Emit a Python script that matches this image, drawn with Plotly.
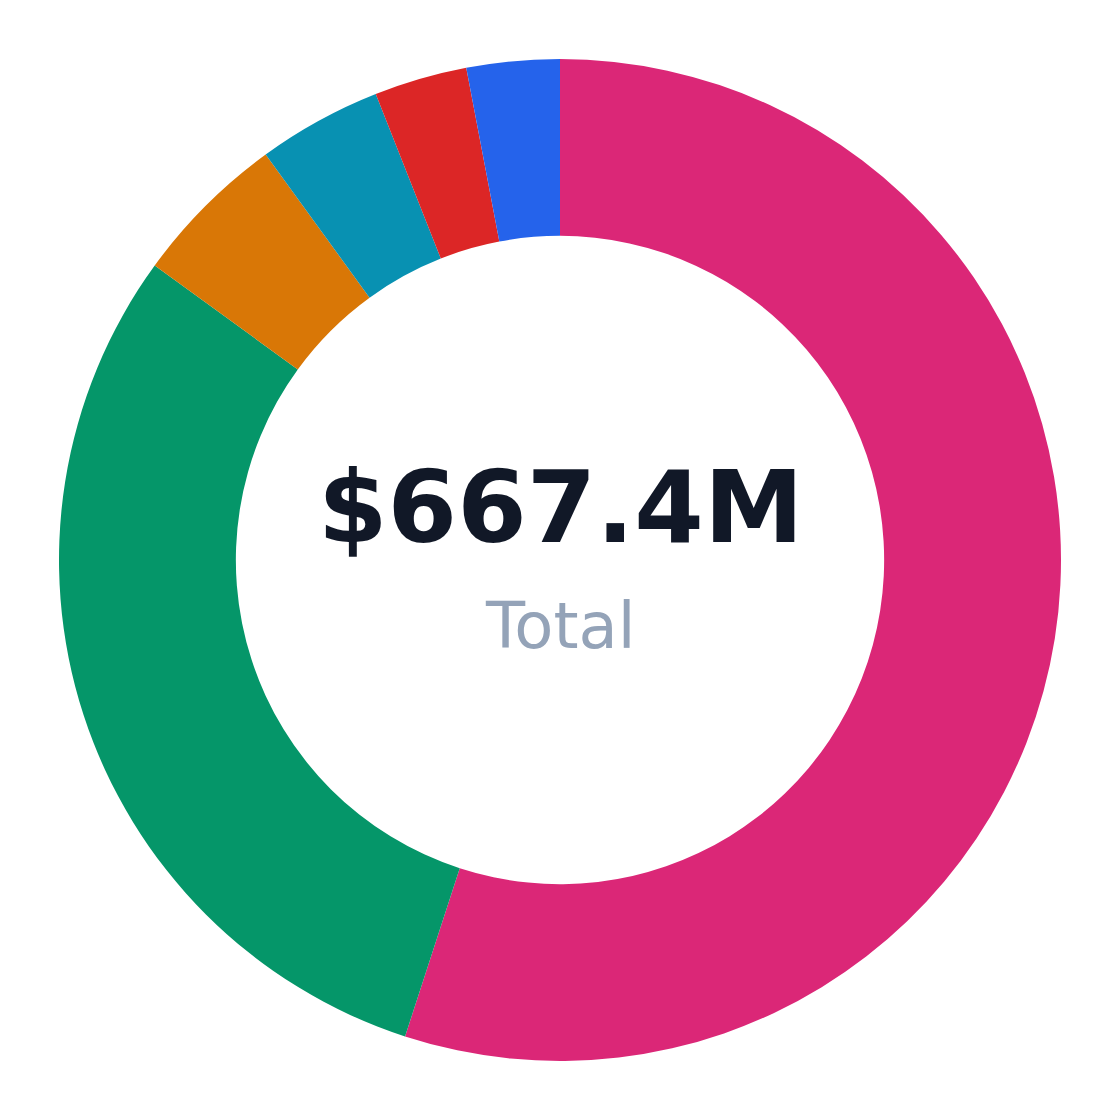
import plotly.graph_objects as go

# values in $M
labels = ["Category A", "Category B", "Category C", "Category D", "Category E", "Category F"]
values = [367.1, 200.2, 33.4, 26.7, 20.0, 20.0]
colors = ["#db2777", "#059669", "#d97706", "#0891b2", "#dc2626", "#2563eb"]

total = sum(values)

fig = go.Figure()
fig.add_trace(go.Pie(
    labels=labels,
    values=values,
    hole=0.647,
    sort=False,
    direction="clockwise",
    rotation=0,
    marker=dict(colors=colors),
    textinfo="none",
    showlegend=False,
))

fig.add_annotation(x=0.5, y=0.552, xref="paper", yref="paper",
                   text="<b>$%.1fM</b>" % total, showarrow=False,
                   font=dict(family="DejaVu Sans", size=100, color="#111827"))
fig.add_annotation(x=0.5, y=0.434, xref="paper", yref="paper",
                   text="Total", showarrow=False,
                   font=dict(family="DejaVu Sans", size=64, color="#94a3b8"))

# page draws 8px down/right, so margins are shifted to keep the ring centred
fig.update_layout(
    width=1120, height=1120,
    margin=dict(l=51, r=67, t=51, b=67),
    paper_bgcolor="white",
    plot_bgcolor="white",
)

fig.write_html("out.html")
